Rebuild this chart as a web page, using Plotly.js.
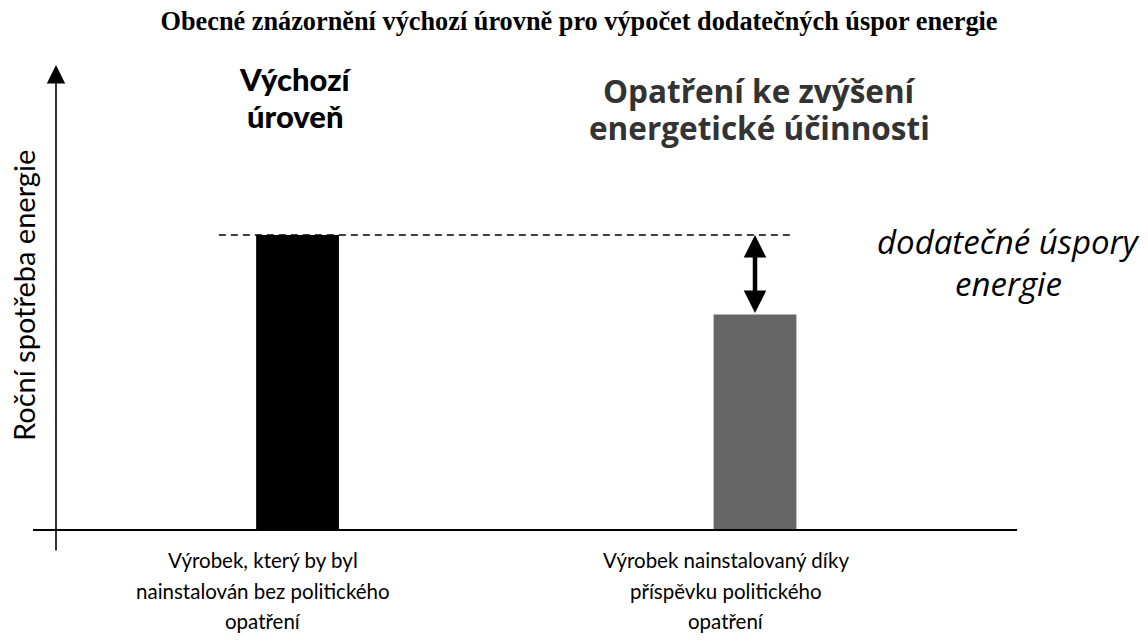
<!DOCTYPE html>
<html>
<head>
<meta charset="utf-8">
<script src="https://cdn.plot.ly/plotly-3.0.1.min.js"></script>
<style>html,body{margin:0;padding:0;background:#fff;}#chart{width:1148px;height:644px;}</style>
</head>
<body>
<div id="chart"></div>
<script>
// ---- data ----
const chartTitle = "Obecné znázornění výchozí úrovně pro výpočet dodatečných úspor energie";
const yAxisTitle = "Roční spotřeba energie";
const categoryPositions = [0, 1];
const consumptionValues = [100, 73];
const barColors = ["#000000", "#666666"];
const categoryLabels = [
  ["Výrobek, který by byl", "nainstalován bez politického", "opatření"],
  ["Výrobek nainstalovaný díky", "příspěvku politického", "opatření"]
];
const headerLabels = [
  ["Výchozí", "úroveň"],
  ["Opatření ke zvýšení", "energetické účinnosti"]
];
const savingsLabel = ["dodatečné úspory", "energie"];

// ---- layout helpers (positions/styling) ----
const W = 1148, H = 644;
const L = 56, R = 131, T = 65, B = 92;
const plotW = W - L - R, plotH = H - T - B;
const px2paperX = p => (p - L) / plotW;
const px2paperY = p => (H - B - p) / plotH;

const annotations = [];
function addLines(lines, cx, firstCy, spacing, font, color, extra) {
  lines.forEach((t, i) => {
    annotations.push(Object.assign({
      text: t, xref: "paper", yref: "paper",
      x: px2paperX(cx), y: px2paperY(firstCy + i * spacing),
      xanchor: "center", yanchor: "middle", showarrow: false,
      font: Object.assign({color: color}, font)
    }, extra || {}));
  });
}

const lato = "Lato, 'Open Sans', sans-serif";
const opens = "'Open Sans', Lato, sans-serif";
// category labels
addLines(categoryLabels[0], 263, 560, 30.5, {family: lato, size: 20.5}, "#000");
addLines(categoryLabels[1], 726, 560, 30.5, {family: lato, size: 20.5}, "#000");
// headers
addLines(headerLabels[0], 295, 79, 37, {family: lato, size: 31, weight: 900}, "#000");
addLines(headerLabels[1], 759, 90, 37, {family: opens, size: 31.5, weight: 700}, "#333");
// savings label
addLines(savingsLabel, 1008, 241, 42, {family: opens, size: 33, style: "italic"}, "#000");

// y-axis arrow
annotations.push({
  xref: "paper", yref: "paper", x: 0, y: 1, ax: 0, ay: plotH, axref: "pixel", ayref: "pixel",
  text: "", showarrow: true, arrowhead: 2, arrowsize: 2.3, arrowwidth: 1.6, arrowcolor: "#000", standoff: 0
});
// double arrow showing additional savings (between the two values)
annotations.push({
  xref: "x", yref: "y", x: categoryPositions[1], y: consumptionValues[0],
  axref: "x", ayref: "y", ax: categoryPositions[1], ay: consumptionValues[1],
  text: "", showarrow: true, arrowhead: 2, arrowside: "end+start",
  arrowsize: 1.0, arrowwidth: 4.5, arrowcolor: "#000", standoff: 0, startstandoff: 0
});
// y-axis title
annotations.push({
  text: yAxisTitle, xref: "paper", yref: "paper", x: px2paperX(23), y: px2paperY(296),
  xanchor: "center", yanchor: "middle", showarrow: false, textangle: -90,
  font: {family: lato, size: 29, color: "#000"}
});

const shapes = [
  // x-axis line
  {type: "line", xref: "paper", yref: "y", x0: px2paperX(33), x1: 1, y0: 0, y1: 0,
   line: {color: "#000", width: 2}},
  // dashed baseline level
  {type: "line", xref: "x", yref: "y", x0: -0.172, x1: 1.087,
   y0: consumptionValues[0], y1: consumptionValues[0],
   line: {color: "#000", width: 1.5, dash: "7px,5px"}, layer: "below"}
];

const trace = {
  type: "bar", x: categoryPositions, y: consumptionValues,
  width: 0.181, marker: {color: barColors, line: {width: 0}},
  hoverinfo: "skip"
};

const layout = {
  width: W, height: H,
  margin: {l: L, r: R, t: T, b: B, pad: 0},
  paper_bgcolor: "#fff", plot_bgcolor: "#fff",
  showlegend: false,
  title: {text: "<b>" + chartTitle + "</b>", x: 579 / W, xanchor: "center", y: 1 - 21 / H, yanchor: "middle",
          font: {family: "'Liberation Serif', 'DejaVu Serif', serif", size: 26.3, color: "#000"}},
  xaxis: {range: [-0.528, 1.5727], showgrid: false, zeroline: false, showline: false,
          showticklabels: false, ticks: "", fixedrange: true},
  yaxis: {range: [-7.46, 157.6], showgrid: false, zeroline: false, showline: false,
          showticklabels: false, ticks: "", fixedrange: true},
  annotations: annotations,
  shapes: shapes
};

Plotly.newPlot("chart", [trace], layout, {displayModeBar: false, staticPlot: true});
</script>
</body>
</html>
